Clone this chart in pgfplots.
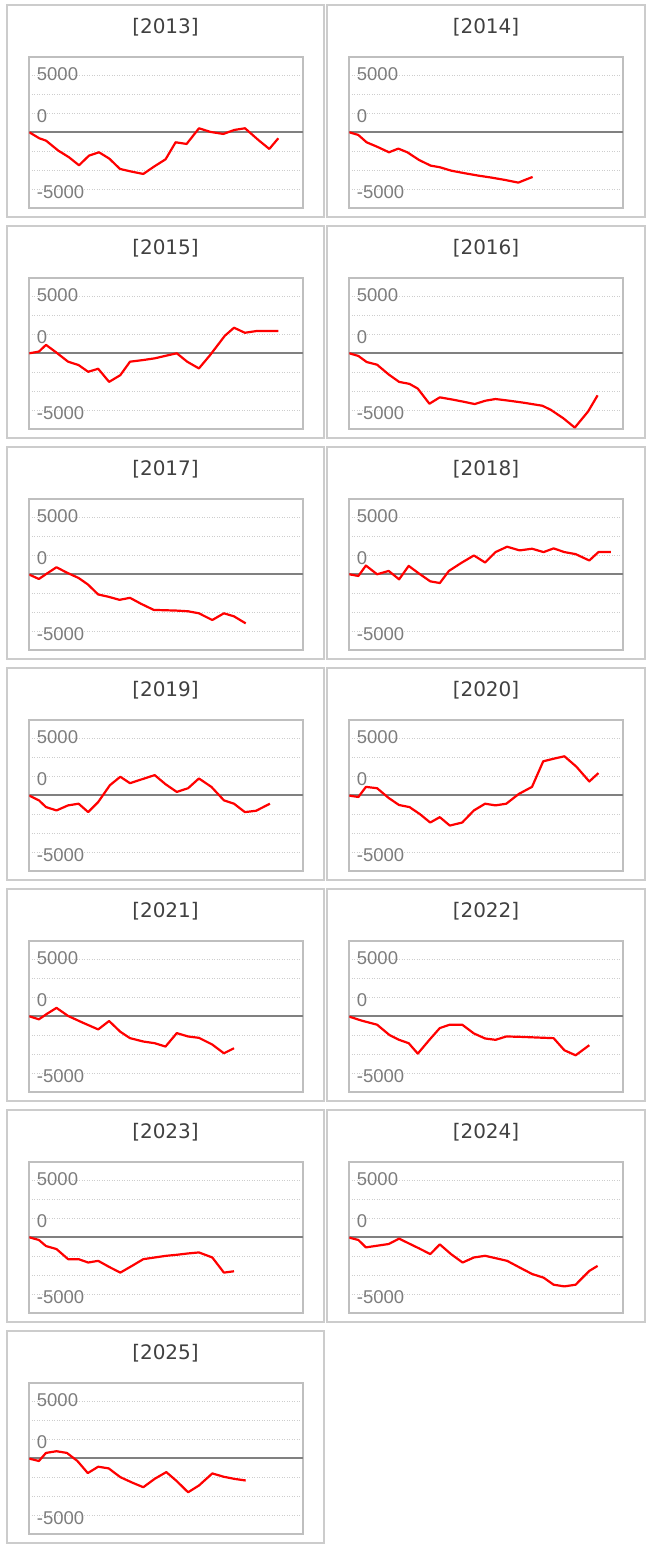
\documentclass[border=0pt]{standalone}
\usepackage{fontspec}
\usepackage{pgfplots}
\pgfplotsset{compat=1.18}
\newfontfamily\titfont{DejaVu Sans}
\newfontfamily\labfont{Liberation Sans}
\definecolor{framegray}{RGB}{204,204,204}
\definecolor{axisgray}{RGB}{191,191,191}
\definecolor{gridgray}{RGB}{205,205,205}
\definecolor{zerogray}{RGB}{128,128,128}
\definecolor{labgray}{RGB}{125,125,125}
\definecolor{titgray}{RGB}{64,64,64}
\pgfplotsset{
  panelstyle/.style={
    width=274bp, height=151bp, scale only axis,
    xmin=0, xmax=274, ymin=-6614, ymax=6632,
    xtick=\empty,
    ytick={-5240,1430,5130}, yticklabels={-5000,0,5000},
    yticklabel style={font=\labfont\fontsize{18.5bp}{20bp}\selectfont, text=labgray, anchor=west, inner sep=0pt, xshift=7.4bp},
    minor ytick={-5000,-3333.3,-1666.7,1666.7,3333.3,5000},
    yminorgrids=true, ymajorgrids=false,
    minor grid style={draw=gridgray, line width=0.8bp, dash pattern=on 1bp off 1.5bp},
    major tick length=0pt, minor tick length=0pt,
    axis line style={draw=axisgray, line width=2bp},
    clip=true,
  }
}
\newcommand{\panel}[4]{%
  \pgfmathsetmacro\bxl{#1==0 ? 7 : 327}%
  \pgfmathsetmacro\bxr{#1==0 ? 324 : 645}%
  \pgfmathsetmacro\byt{1547-5-221*#2}%
  \pgfmathsetmacro\byb{1547-217.3-221*#2}%
  \pgfmathsetmacro\pxl{#1==0 ? 29.3 : 349.3}%
  \pgfmathsetmacro\pyb{1547-207.7-221*#2}%
  \pgfmathsetmacro\tx{#1==0 ? 165.5 : 486}%
  \pgfmathsetmacro\ty{1547-34-221*#2}%
  \draw[framegray, line width=2.2bp] (\bxl bp,\byb bp) rectangle (\bxr bp,\byt bp);
  \node[anchor=base, inner sep=0pt, text=titgray, font=\titfont\fontsize{20bp}{24bp}\selectfont] at (\tx bp,\ty bp) {[#3]};
  \begin{axis}[panelstyle, at={(\pxl bp,\pyb bp)}, anchor=south west]
    \addplot[zerogray, line width=1.8bp] coordinates {(0,0) (274,0)};
    \addplot[red, line width=2.2bp, line join=round] coordinates {#4};
  \end{axis}
}
\begin{document}
\begin{tikzpicture}
\useasboundingbox (0,0) rectangle (652bp,1547bp);
\panel{0}{0}{2013}{(0,0) (10,-526) (16.7,-731) (29,-1608) (39.7,-2193) (49.7,-2895) (59.7,-2047) (69.7,-1754) (80,-2310) (90.7,-3216) (102.3,-3450) (114,-3655) (124.7,-3012) (136.3,-2368) (146.3,-877) (157.3,-1023) (169.7,351) (181.3,29) (194,-146) (205,205) (215.7,351) (229,-673) (240,-1462) (249,-526)}
\panel{1}{0}{2014}{(0,0) (9,-234) (17.3,-877) (29,-1316) (39.7,-1754) (49,-1433) (58,-1754) (69.7,-2427) (81.3,-2924) (90.7,-3070) (101.7,-3363) (115.7,-3597) (129,-3801) (142.3,-3977) (155.7,-4181) (169,-4415) (177.3,-4123) (183.3,-3918)}
\panel{0}{1}{2015}{(0,0) (9.6,148) (16.7,738) (26.3,118) (38.8,-738) (49.3,-1033) (58.9,-1623) (68.9,-1357) (79.8,-2508) (91,-1918) (100.7,-738) (114,-590) (125.4,-443) (137,-207) (147.5,0) (157.9,-738) (169.6,-1328) (180.9,-148) (195.5,1534) (204.7,2242) (215.6,1800) (226.8,1947) (237.3,1947) (249,1947)}
\panel{1}{1}{2016}{(0,0) (9.1,-236) (17.4,-767) (27.8,-1003) (39.4,-1859) (49.8,-2508) (60.2,-2685) (68.5,-3098) (80.1,-4425) (90.5,-3864) (103.8,-4071) (114.2,-4248) (125.4,-4454) (136.2,-4159) (146.2,-4012) (159.9,-4159) (174.4,-4336) (193.1,-4602) (201.4,-4956) (213.9,-5693) (225.5,-6520) (238.8,-5104) (248.3,-3688)}
\panel{0}{2}{2017}{(0,-30) (9.6,-413) (18,88) (27.2,619) (36.8,177) (49.3,-325) (58.5,-885) (68.9,-1770) (79.4,-1977) (90.2,-2242) (100.7,-2065) (111.9,-2596) (124.5,-3127) (137,-3157) (147.5,-3186) (158.8,-3245) (169.6,-3422) (183,-4012) (194.6,-3422) (204.7,-3688) (216.4,-4307)}
\panel{1}{2}{2018}{(0,0) (9.1,-148) (16.6,767) (27.8,0) (39.4,295) (49.8,-443) (59.4,738) (69.8,59) (81,-620) (90.5,-767) (99.6,295) (112.1,1003) (124.6,1652) (135.8,1033) (146.2,1947) (157.8,2419) (170.3,2095) (182.7,2242) (194.3,1947) (204.3,2271) (215.1,1947) (226.3,1770) (240,1210) (249.1,1947) (261.6,1947)}
\panel{0}{3}{2019}{(0,-30) (9.6,-443) (16.7,-1033) (27.2,-1328) (38.8,-885) (49.3,-738) (58.9,-1475) (68.9,-590) (80.6,885) (91,1623) (100.7,1062) (112,1387) (125.4,1770) (136.2,973) (147.5,295) (158.8,620) (169.6,1475) (182.1,738) (194.6,-443) (204.7,-738) (215.6,-1475) (226.8,-1357) (240.6,-738)}
\panel{1}{3}{2020}{(0,-30) (9.1,-148) (16.6,738) (27.8,620) (39.4,-236) (49.8,-856) (60.2,-1033) (70.6,-1652) (80.9,-2390) (90.5,-1918) (100.5,-2655) (112.9,-2390) (124.6,-1328) (135.8,-738) (146.2,-885) (157,-738) (169.5,118) (182.7,738) (193.9,2980) (204.7,3216) (215.1,3422) (227.1,2508) (240,1210) (249.1,1947)}
\panel{0}{4}{2021}{(0,0) (9.6,-266) (18,236) (27.2,738) (38.8,30) (53.5,-561) (68.9,-1151) (79.8,-413) (91,-1357) (100.7,-1918) (114,-2213) (125.4,-2360) (136.2,-2655) (147.5,-1475) (158.8,-1770) (169.6,-1888) (183,-2478) (194.6,-3245) (204.7,-2803)}
\panel{1}{4}{2022}{(0,-30) (12.5,-384) (27.8,-738) (40.3,-1652) (49.8,-2065) (59.4,-2360) (68.5,-3275) (80.1,-2065) (90.5,-1033) (100.5,-738) (112.9,-738) (124.6,-1505) (135.8,-1947) (146.2,-2065) (157,-1770) (170.3,-1800) (186.9,-1859) (204.3,-1918) (215.1,-2980) (226.3,-3422) (240,-2537)}
\panel{0}{5}{2023}{(0,0) (9.6,-236) (16.7,-767) (27.2,-1033) (38.8,-1918) (49.3,-1918) (58.9,-2213) (68.9,-2065) (79.8,-2596) (91,-3098) (102.7,-2508) (114,-1918) (125.4,-1770) (137,-1623) (147.5,-1534) (158.8,-1416) (169.6,-1328) (183,-1770) (194.6,-3098) (204.7,-2980)}
\panel{1}{5}{2024}{(0,-30) (9.1,-236) (16.6,-885) (27.8,-738) (39.4,-590) (49.8,-118) (59.4,-531) (69.8,-974) (81,-1475) (90.5,-620) (101.7,-1475) (113.3,-2213) (124.6,-1770) (135.8,-1623) (146.2,-1829) (157.8,-2065) (171.1,-2685) (182.7,-3216) (194.3,-3541) (204.3,-4159) (215.1,-4307) (226.3,-4159) (240,-2950) (248.3,-2508)}
\panel{0}{6}{2025}{(0,-30) (9.6,-236) (16.7,472) (27.2,620) (37.6,472) (48.1,-236) (58.5,-1298) (68.9,-738) (79.4,-885) (91,-1652) (102.7,-2124) (114,-2537) (125.4,-1800) (137,-1210) (147.5,-2006) (158.8,-2980) (169.6,-2390) (183,-1328) (194.6,-1623) (204.7,-1800) (216.4,-1947)}
\end{tikzpicture}
\end{document}
